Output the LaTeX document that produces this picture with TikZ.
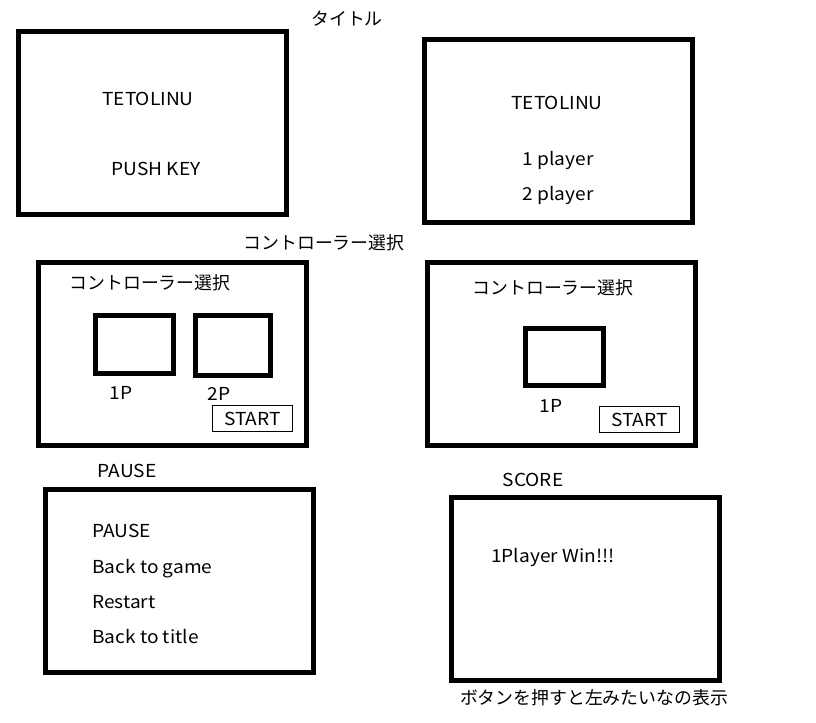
\documentclass[tikz,border=0pt]{standalone}
\usepackage{fontspec}
\setmainfont{Noto Sans CJK JP}
\newfontfamily\latfont[FakeStretch=1.07]{Noto Sans CJK JP}
\usetikzlibrary{calc}
\newcommand{\Px}{0.75pt}
\tikzset{Screen/.style={
    inner sep=0pt,
    minimum width=268*\Px,
    minimum height=183*\Px,
    draw=black,
    line width=5*\Px,
    }
}
\tikzset{Pad/.style={
    inner sep=0pt,
    minimum width=78*\Px,
    minimum height=58*\Px,
    draw=black,
    line width=5*\Px,
    }
}

\begin{document}
\begin{tikzpicture}[x=\Px,y=-\Px,
    t/.style={inner sep=0pt, anchor=base, font=\fontsize{13.4pt}{16pt}\selectfont},
    l/.style={t, font=\fontsize{13.4pt}{16pt}\latfont},
    tl/.style={l, anchor=base west},
    btn/.style={inner sep=0pt, minimum width=80*\Px, minimum height=26*\Px,
      draw=black, line width=1*\Px, font=\fontsize{13.4pt}{16pt}\latfont},
]
\useasboundingbox (0,0) rectangle (816,722);
% title screens
\node [t] (titleLbl) at (347,25) {タイトル};
\node [Screen] (title1) at (152,122.5) {};
\node [l] (title1Name) at ($(148,105)$) {TETOLINU};
\node [l] (title1Push) at ($(156,175)$) {PUSH KEY};
\node [Screen] (title2) at (558.5,130.5) {};
\node [l] (title2Name) at (557,109) {TETOLINU};
\node [l] (title2One) at (558,165) {1 player};
\node [l] (title2Two) at (558,200) {2 player};
% controller select
\node [t] (ctrlLbl) at (324,249) {コントローラー選択};
\node [Screen] (ctrl2) at (172.5,354) {};
\node [t] (ctrl2Head) at (150,289) {コントローラー選択};
\node [Pad] (pad1) at (134.5,344.5) {};
\node [Pad,minimum width=75*\Px,minimum height=60*\Px] (pad2) at (233,345.5) {};
\node [l] (pad1Lbl) at (121,399) {1P};
\node [l] (pad2Lbl) at (219,400) {2P};
\node [btn] (ctrl2Start) at (252.5,418.5) {START};
\node [Screen] (ctrl1) at (561,353.5) {};
\node [t] (ctrl1Head) at (553,294) {コントローラー選択};
\node [Pad,minimum height=57*\Px] (pad3) at (564.5,357) {};
\node [l] (pad3Lbl) at (551,412) {1P};
\node [btn] (ctrl1Start) at (639.5,419.5) {START};
% pause
\node [l] (pauseLbl) at (127,477) {PAUSE};
\node [Screen] (pause) at (179,581) {};
\node [tl] (pauseHead) at (92,537) {PAUSE};
\node [tl] (pauseBack) at (92,573) {Back to game};
\node [tl] (pauseRestart) at (92,608) {Restart};
\node [tl] (pauseTitle) at (92,643) {Back to title};
% score
\node [l] (scoreLbl) at (533,486) {SCORE};
\node [Screen] (score) at (585.5,589) {};
\node [tl] (scoreWin) at (491,562) {1Player Win!!!};
\node [t] (scoreNote) at (594,704) {ボタンを押すと左みたいなの表示};
\end{tikzpicture}
\end{document}
